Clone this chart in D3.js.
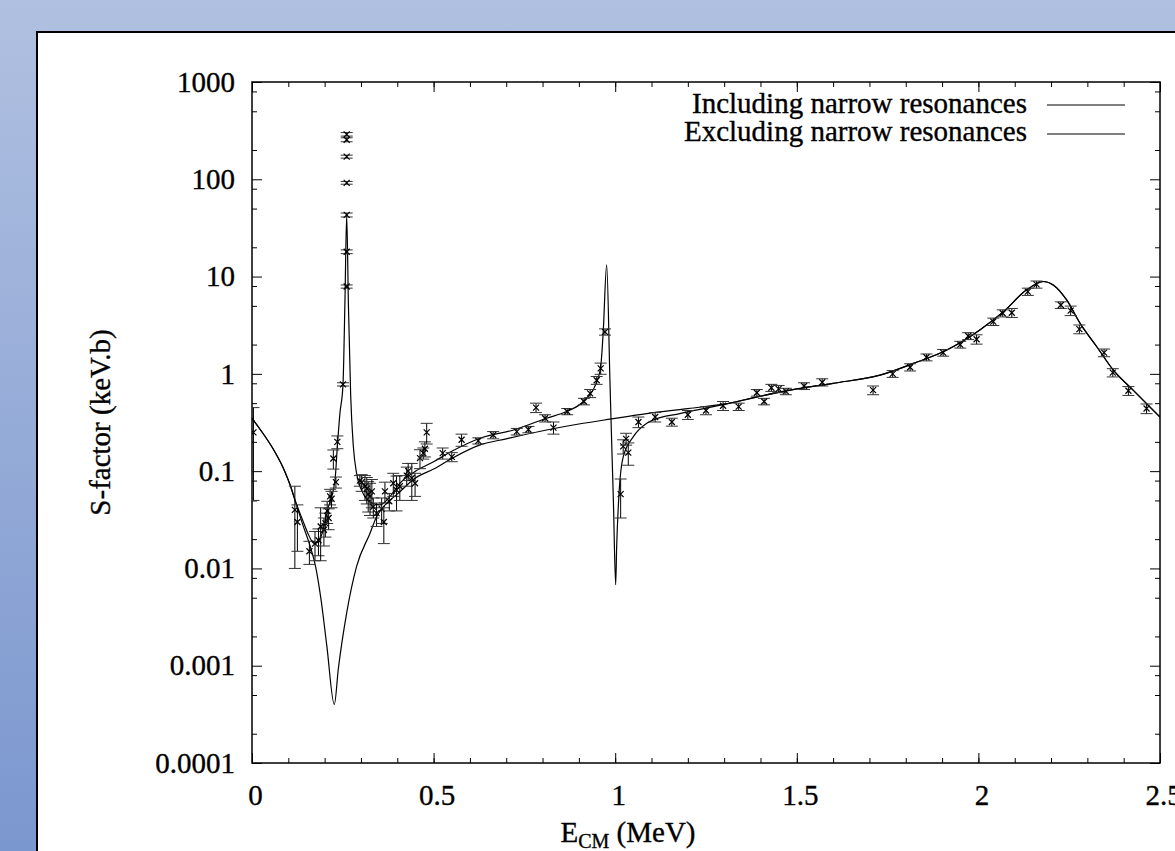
<!DOCTYPE html>
<html>
<head>
<meta charset="utf-8">
<script src="https://cdn.jsdelivr.net/npm/d3@7"></script>
<style>
body { margin: 0; overflow: hidden; }
svg text { font-family: "Liberation Serif", "Times New Roman", serif; fill: #000; stroke: #000; stroke-width: 0.35px; }
</style>
</head>
<body>
<svg id="chart" width="1175" height="851"></svg>
<script>
PLOT = { left: 252, right: 1160, top: 82, bottom: 763 };
FONT_SIZE = 29;

// axis ticks
var xTickValues = [0, 0.5, 1, 1.5, 2, 2.5];
var xTickLabels = ["0", "0.5", "1", "1.5", "2", "2.5"];
var yTickValues = [0.0001, 0.001, 0.01, 0.1, 1, 10, 100, 1000];
var yTickLabels = ["0.0001", "0.001", "0.01", "0.1", "1", "10", "100", "1000"];
var yMinorSteps = [2, 5, 8];

var legendLabels = ["Including narrow resonances", "Excluding narrow resonances"];

// model curves, [E (MeV), S (keV.b)]
var includingCurve = [
    [0, 0.35], [0.03, 0.245], [0.06, 0.165], [0.09, 0.1], [0.105, 0.072],
    [0.118, 0.051], [0.14, 0.031], [0.155, 0.0225], [0.165, 0.019], [0.1735, 0.018],
    [0.185, 0.0195], [0.195, 0.024], [0.2055, 0.037], [0.2285, 0.081], [0.235, 0.18],
    [0.242, 0.39], [0.2505, 0.77], [0.256, 5.8], [0.2607, 43], [0.2655, 5.0],
    [0.2717, 0.6], [0.279, 0.18], [0.288, 0.095], [0.306, 0.059], [0.33, 0.047],
    [0.352, 0.045], [0.38, 0.055], [0.407, 0.075], [0.45, 0.1], [0.5, 0.125],
    [0.55, 0.16], [0.628, 0.218], [0.72, 0.265], [0.811, 0.35], [0.866, 0.41],
    [0.912, 0.52], [0.949, 0.83], [0.96, 1.17], [0.967, 2.7], [0.9765, 13.2],
    [0.9857, 0.8], [0.991, 0.16], [0.995, 0.05], [1.0013, 0.0068], [1.004, 0.0166],
    [1.011, 0.063], [1.022, 0.14], [1.05, 0.226], [1.087, 0.31], [1.105, 0.336],
    [1.178, 0.39], [1.27, 0.46], [1.316, 0.5],
    [1.4, 0.59], [1.5, 0.7], [1.6, 0.8], [1.729, 0.97], [1.821, 1.28],
    [1.913, 1.76], [2.004, 2.83], [2.069, 4.36], [2.133, 7.3], [2.179, 8.9],
    [2.206, 8.2], [2.243, 5.75], [2.28, 3.3], [2.326, 1.9], [2.371, 1.1],
    [2.426, 0.68], [2.5, 0.36]
];

var excludingCurve = [
    [0, 0.35], [0.03, 0.245], [0.06, 0.165], [0.09, 0.1], [0.105, 0.072],
    [0.118, 0.051], [0.14, 0.028], [0.16, 0.017], [0.175, 0.0105], [0.19, 0.0048],
    [0.206, 0.0016], [0.2267, 0.0004], [0.2377, 0.00093], [0.2607, 0.0035], [0.288, 0.0105],
    [0.325, 0.023], [0.343, 0.034], [0.3615, 0.043], [0.4, 0.058], [0.45, 0.085],
    [0.5, 0.105], [0.55, 0.135], [0.628, 0.186], [0.7, 0.215], [0.811, 0.265],
    [0.9, 0.305], [0.99, 0.344], [1.087, 0.39], [1.2, 0.44], [1.316, 0.5],
    [1.4, 0.59], [1.5, 0.7], [1.6, 0.8], [1.729, 0.97], [1.821, 1.28],
    [1.913, 1.76], [2.004, 2.83], [2.069, 4.36], [2.133, 7.3], [2.179, 8.9],
    [2.206, 8.2], [2.243, 5.75], [2.28, 3.3], [2.326, 1.9], [2.371, 1.1],
    [2.426, 0.68], [2.5, 0.36]
];

// measured points, [E, S, dS]
var measured = [
    [0.004, 0.25, 0.2],
    [0.118, 0.04, 0.03], [0.125, 0.03, 0.015], [0.158, 0.015, 0.004], [0.1735, 0.018, 0.006],
    [0.183, 0.0195, 0.006], [0.189, 0.027, 0.015], [0.198, 0.025, 0.008], [0.202, 0.029, 0.008],
    [0.207, 0.039, 0.01], [0.211, 0.033, 0.008], [0.215, 0.055, 0.01], [0.219, 0.052, 0.01],
    [0.224, 0.135, 0.03], [0.231, 0.077, 0.01], [0.235, 0.2, 0.03], [0.2505, 0.78, 0.03],
    [0.2607, 7.9, 0.3], [0.2607, 18, 0.8], [0.2607, 43, 2], [0.2607, 92, 3],
    [0.2607, 171, 6], [0.2607, 255, 12], [0.2607, 290, 12],
    [0.297, 0.08, 0.01], [0.302, 0.077, 0.015], [0.311, 0.07, 0.02], [0.316, 0.066, 0.02],
    [0.32, 0.058, 0.02], [0.325, 0.055, 0.02], [0.33, 0.062, 0.02], [0.334, 0.043, 0.01],
    [0.343, 0.037, 0.01], [0.357, 0.041, 0.012], [0.363, 0.03, 0.012], [0.366, 0.062, 0.015],
    [0.378, 0.049, 0.01], [0.389, 0.075, 0.02], [0.398, 0.064, 0.025], [0.407, 0.07, 0.02],
    [0.426, 0.09, 0.02], [0.43, 0.1, 0.02], [0.44, 0.085, 0.035], [0.449, 0.075, 0.02],
    [0.4625, 0.136, 0.03], [0.4716, 0.153, 0.02], [0.476, 0.17, 0.03], [0.481, 0.25, 0.06],
    [0.525, 0.153, 0.02], [0.55, 0.14, 0.015], [0.577, 0.21, 0.03], [0.623, 0.205, 0.015],
    [0.664, 0.235, 0.02], [0.729, 0.255, 0.02], [0.761, 0.268, 0.02], [0.782, 0.45, 0.05],
    [0.807, 0.35, 0.03], [0.83, 0.28, 0.04], [0.868, 0.41, 0.03], [0.914, 0.52, 0.04],
    [0.931, 0.63, 0.06], [0.949, 0.86, 0.08], [0.96, 1.14, 0.15], [0.972, 2.7, 0.2],
    [1.015, 0.058, 0.025], [1.022, 0.18, 0.03], [1.03, 0.215, 0.03], [1.036, 0.155, 0.04],
    [1.064, 0.32, 0.04], [1.11, 0.36, 0.04], [1.156, 0.32, 0.03], [1.2, 0.38, 0.04],
    [1.25, 0.42, 0.04], [1.297, 0.47, 0.05], [1.34, 0.46, 0.04], [1.39, 0.64, 0.05],
    [1.41, 0.52, 0.04], [1.43, 0.72, 0.06], [1.45, 0.7, 0.06], [1.47, 0.66, 0.05],
    [1.52, 0.75, 0.06], [1.57, 0.82, 0.07], [1.71, 0.68, 0.07], [1.764, 1.0, 0.08],
    [1.812, 1.17, 0.1], [1.857, 1.48, 0.12], [1.903, 1.65, 0.13], [1.95, 2.0, 0.16],
    [1.972, 2.45, 0.2], [1.995, 2.27, 0.25], [2.041, 3.44, 0.3], [2.067, 4.2, 0.35],
    [2.092, 4.25, 0.45], [2.136, 7.0, 0.6], [2.16, 8.3, 0.7], [2.227, 5.1, 0.4],
    [2.254, 4.47, 0.5], [2.278, 2.88, 0.3], [2.346, 1.65, 0.15], [2.37, 1.03, 0.1],
    [2.413, 0.67, 0.07], [2.463, 0.44, 0.05]
];

function drawBackground(svg) {
    var grad = svg.append("defs").append("linearGradient")
        .attr("id", "bg").attr("x1", 0).attr("y1", 0).attr("x2", 0).attr("y2", 1);
    grad.append("stop").attr("offset", "0%").attr("stop-color", "#b0c0e0");
    grad.append("stop").attr("offset", "100%").attr("stop-color", "#7b97cf");
    svg.append("rect").attr("width", 1175).attr("height", 851).attr("fill", "url(#bg)");
    svg.append("rect")
        .attr("x", 37).attr("y", 32).attr("width", 1200).attr("height", 900)
        .attr("fill", "#fff").attr("stroke", "#000").attr("stroke-width", 2);
}

function drawAxes(svg, x, y) {
    var g = svg.append("g").attr("font-size", FONT_SIZE);
    var noDomain = function(sel) { sel.select(".domain").remove(); };

    var xMinor = d3.range(0, 2.501, 0.1);
    var yMinor = [];
    yTickValues.slice(0, -1).forEach(function(v) {
        yMinorSteps.forEach(function(m) { yMinor.push(v * m); });
    });

    // bottom, labelled
    g.append("g").attr("transform", "translate(0," + PLOT.bottom + ")")
        .call(d3.axisBottom(x).tickValues(xTickValues)
            .tickFormat(function(d, i) { return xTickLabels[i]; })
            .tickSizeInner(-10).tickSizeOuter(0).tickPadding(21))
        .call(noDomain)
        .selectAll("text").attr("dx", 3);
    g.append("g").attr("transform", "translate(0," + PLOT.bottom + ")")
        .call(d3.axisBottom(x).tickValues(xMinor).tickFormat("").tickSizeInner(-5).tickSizeOuter(0))
        .call(noDomain);
    // top mirror
    g.append("g").attr("transform", "translate(0," + PLOT.top + ")")
        .call(d3.axisTop(x).tickValues(xTickValues).tickFormat("").tickSizeInner(-10).tickSizeOuter(0))
        .call(noDomain);
    g.append("g").attr("transform", "translate(0," + PLOT.top + ")")
        .call(d3.axisTop(x).tickValues(xMinor).tickFormat("").tickSizeInner(-5).tickSizeOuter(0))
        .call(noDomain);

    // left, labelled
    g.append("g").attr("transform", "translate(" + PLOT.left + ",0)")
        .call(d3.axisLeft(y).tickValues(yTickValues)
            .tickFormat(function(d, i) { return yTickLabels[i]; })
            .tickSizeInner(-10).tickSizeOuter(0).tickPadding(17))
        .call(noDomain);
    g.append("g").attr("transform", "translate(" + PLOT.left + ",0)")
        .call(d3.axisLeft(y).tickValues(yMinor).tickFormat("").tickSizeInner(-5).tickSizeOuter(0))
        .call(noDomain);
    // right mirror
    g.append("g").attr("transform", "translate(" + PLOT.right + ",0)")
        .call(d3.axisRight(y).tickValues(yTickValues).tickFormat("").tickSizeInner(-10).tickSizeOuter(0))
        .call(noDomain);
    g.append("g").attr("transform", "translate(" + PLOT.right + ",0)")
        .call(d3.axisRight(y).tickValues(yMinor).tickFormat("").tickSizeInner(-5).tickSizeOuter(0))
        .call(noDomain);

    g.selectAll(".tick line").attr("stroke", "#000").attr("stroke-width", 1);
    g.selectAll("g").attr("font-family", null).attr("font-size", null);

    svg.append("rect")
        .attr("x", PLOT.left).attr("y", PLOT.top)
        .attr("width", PLOT.right - PLOT.left).attr("height", PLOT.bottom - PLOT.top)
        .attr("fill", "none").attr("stroke", "#000").attr("stroke-width", 1.5);

    // axis titles
    svg.append("text")
        .attr("transform", "translate(110," + ((PLOT.top + PLOT.bottom) / 2) + ") rotate(-90)")
        .attr("text-anchor", "middle").attr("font-size", FONT_SIZE)
        .text("S-factor (keV.b)");
    var xt = svg.append("text")
        .attr("x", 628).attr("y", 842)
        .attr("text-anchor", "middle").attr("font-size", FONT_SIZE);
    xt.append("tspan").text("E");
    xt.append("tspan").attr("font-size", 20).attr("dy", 6).text("CM");
    xt.append("tspan").attr("dy", -6).text(" (MeV)");
}

function drawChart() {
    var svg = d3.select("#chart");
    drawBackground(svg);

    var x = d3.scaleLinear().domain([0, 2.5]).range([PLOT.left, PLOT.right]);
    var y = d3.scaleLog().domain([0.0001, 1000]).range([PLOT.bottom, PLOT.top]);

    svg.append("clipPath").attr("id", "plot-clip")
        .append("rect")
        .attr("x", PLOT.left).attr("y", PLOT.top)
        .attr("width", PLOT.right - PLOT.left).attr("height", PLOT.bottom - PLOT.top);

    drawAxes(svg, x, y);

    var line = d3.line()
        .x(function(d) { return x(d[0]); })
        .y(function(d) { return y(d[1]); })
        .curve(d3.curveMonotoneX);

    var plot = svg.append("g").attr("clip-path", "url(#plot-clip)");

    [includingCurve, excludingCurve].forEach(function(c) {
        plot.append("path")
            .datum(c)
            .attr("d", line)
            .attr("fill", "none")
            .attr("stroke", "#000")
            .attr("stroke-width", 1.2);
    });

    // error bars
    var pts = plot.selectAll(".pt").data(measured).enter().append("g").attr("class", "pt");
    pts.append("line")
        .attr("x1", function(d) { return x(d[0]); })
        .attr("x2", function(d) { return x(d[0]); })
        .attr("y1", function(d) { return y(Math.max(d[1] - d[2], 0.0001)); })
        .attr("y2", function(d) { return y(d[1] + d[2]); })
        .attr("stroke", "#000").attr("stroke-width", 1);
    [-1, 1].forEach(function(s) {
        pts.append("line")
            .attr("x1", function(d) { return x(d[0]) - 6; })
            .attr("x2", function(d) { return x(d[0]) + 6; })
            .attr("y1", function(d) { return y(Math.max(d[1] + s * d[2], 0.0001)); })
            .attr("y2", function(d) { return y(Math.max(d[1] + s * d[2], 0.0001)); })
            .attr("stroke", "#333").attr("stroke-width", 1);
    });
    // markers
    pts.append("path")
        .attr("d", function(d) {
            var cx = x(d[0]), cy = y(d[1]), r = 3;
            return "M" + (cx - r) + "," + (cy - r) + "L" + (cx + r) + "," + (cy + r) +
                   "M" + (cx - r) + "," + (cy + r) + "L" + (cx + r) + "," + (cy - r);
        })
        .attr("stroke", "#000").attr("stroke-width", 1.2);

    // legend
    var leg = svg.append("g").attr("font-size", FONT_SIZE);
    legendLabels.forEach(function(label, i) {
        leg.append("text")
            .attr("x", 1027).attr("y", 113 + i * 28)
            .attr("text-anchor", "end")
            .text(label);
        leg.append("line")
            .attr("x1", 1047).attr("x2", 1125)
            .attr("y1", 105 + i * 29).attr("y2", 105 + i * 29)
            .attr("stroke", "#000").attr("stroke-width", 1);
    });
}

drawChart();
</script>
</body>
</html>
